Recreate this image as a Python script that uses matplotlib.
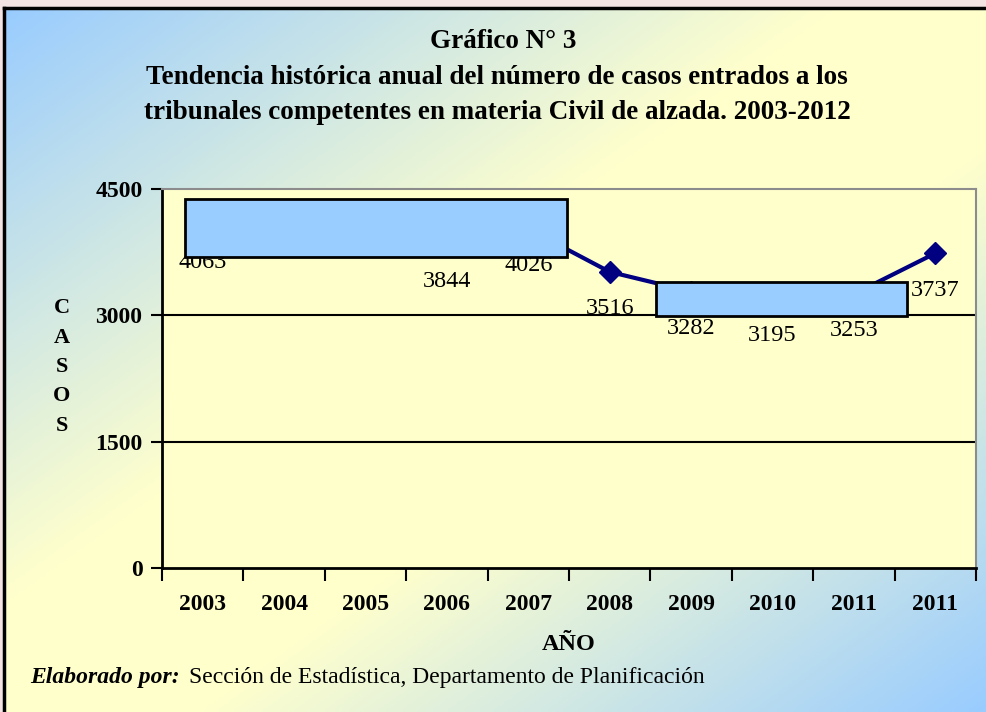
import numpy as np
import matplotlib
matplotlib.use("Agg")
import matplotlib.pyplot as plt
from matplotlib.colors import LinearSegmentedColormap
from matplotlib.patches import Rectangle

plt.rcParams["font.family"] = ["Liberation Serif", "DejaVu Serif"]

# data (2004 and 2005 are hidden under the box)
years = ["2003", "2004", "2005", "2006", "2007", "2008", "2009", "2010", "2011", "2011"]
casos = [4063, 4250, 4230, 3844, 4026, 3516, 3282, 3195, 3253, 3737]
yticks = [0, 1500, 3000, 4500]

W, H = 987, 712
fig = plt.figure(figsize=(W / 100, H / 100), dpi=100, facecolor="#f4e3e3")

# gradient background of the chart frame
bg = fig.add_axes([4 / W, 0, 1 - 4 / W, 1 - 8 / H], zorder=-5)
gx, gy = np.meshgrid(np.linspace(0, 1, 400), np.linspace(0, 1, 300))
t = (gx + gy) / 2
cmap = LinearSegmentedColormap.from_list(
    "bg", [(0, "#99ccff"), (0.42, "#ffffcc"), (0.6, "#ffffcc"), (1, "#99ccff")])
bg.imshow(t, cmap=cmap, aspect="auto", extent=[0, 1, 0, 1], origin="upper")
bg.set_xticks([])
bg.set_yticks([])
for s in ["right", "bottom"]:
    bg.spines[s].set_visible(False)
for s in ["left", "top"]:
    bg.spines[s].set_linewidth(2.5)
    bg.spines[s].set_color("black")

ax = fig.add_axes([162 / W, 1 - 568 / H, (976 - 162) / W, (568 - 189) / H])
ax.set_facecolor("#ffffcc")
x = np.arange(len(casos)) + 0.5
ax.plot(x, casos, color="#000080", lw=3, marker="D", markersize=11, zorder=3)
for xi, v in zip(x, casos):
    ax.annotate(str(v), (xi, v), xytext=(0, -26.5), textcoords="offset points",
                ha="center", va="center", fontsize=17.5)

ax.set_xlim(0, 10)
ax.set_ylim(0, 4500)
ax.set_yticks(yticks)
ax.set_yticklabels([str(v) for v in yticks], fontsize=17, fontweight="bold")
ax.set_xticks(np.arange(0, 11))
ax.set_xticklabels([])
ax.set_xticks(x, minor=True)
ax.set_xticklabels(years, minor=True, fontsize=17, fontweight="bold")
ax.tick_params(axis="x", which="minor", length=0, pad=19)
ax.tick_params(axis="x", which="major", length=9, width=1.5, direction="out")
ax.tick_params(axis="y", length=8, width=1.5, direction="out", pad=6)
for v in [1500, 3000]:
    ax.axhline(v, color="black", lw=1.5, zorder=1)
ax.spines["left"].set_linewidth(2)
ax.spines["bottom"].set_linewidth(2)
ax.spines["top"].set_color("#8c8c8c")
ax.spines["right"].set_color("#8c8c8c")
ax.spines["top"].set_linewidth(1.5)
ax.spines["right"].set_linewidth(1.5)

# boxes drawn over the plot as in the original
for (bx0, by0, bx1, by1) in [(185, 199, 567, 257), (656, 282, 907, 316)]:
    fig.add_artist(Rectangle((bx0 / W, 1 - by1 / H), (bx1 - bx0) / W, (by1 - by0) / H,
                             transform=fig.transFigure, facecolor="#99ccff",
                             edgecolor="black", lw=2, zorder=5))

fig.text(503 / W, 1 - 42 / H, "Gráfico N° 3", ha="center", va="center",
         fontsize=19.5, fontweight="bold")
fig.text(497 / W, 1 - 95 / H,
         "Tendencia histórica anual del número de casos entrados a los\n"
         "tribunales competentes en materia Civil de alzada. 2003-2012",
         ha="center", va="center", fontsize=19.5, fontweight="bold", linespacing=1.5)

fig.text(62 / W, 1 - 367 / H, "C\nA\nS\nO\nS", ha="center", va="center",
         fontsize=16, fontweight="bold", linespacing=1.63)
fig.text(569 / W, 1 - 645 / H, "AÑO", ha="center", va="center",
         fontsize=17.5, fontweight="bold")
fig.text(30 / W, 1 - 678 / H, "Elaborado por:", ha="left", va="center",
         fontsize=17, fontweight="bold", style="italic")
fig.text(189 / W, 1 - 678 / H, "Sección de Estadística, Departamento de Planificación",
         ha="left", va="center", fontsize=17)

fig.savefig("out.png", dpi=100)
